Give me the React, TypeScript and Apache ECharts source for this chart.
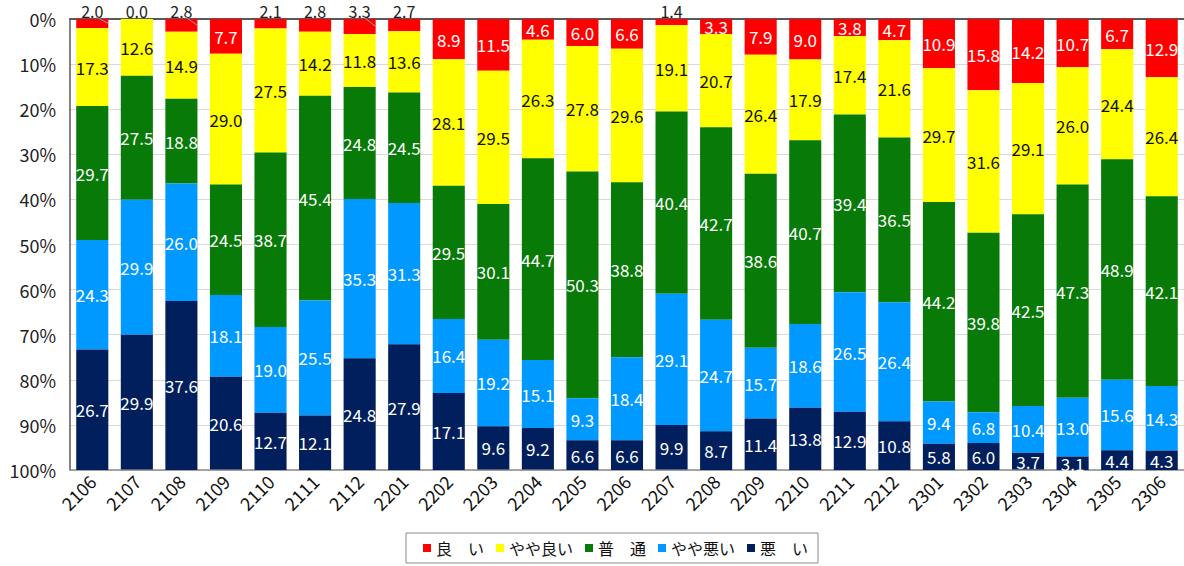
import React, { useEffect, useRef } from "react";
import * as echarts from "echarts";

const categories = ["2106","2107","2108","2109","2110","2111","2112","2201","2202","2203","2204","2205","2206","2207","2208","2209","2210","2211","2212","2301","2302","2303","2304","2305","2306"];
const good = [2.0,0.0,2.8,7.7,2.1,2.8,3.3,2.7,8.9,11.5,4.6,6.0,6.6,1.4,3.3,7.9,9.0,3.8,4.7,10.9,15.8,14.2,10.7,6.7,12.9];
const fairlyGood = [17.3,12.6,14.9,29.0,27.5,14.2,11.8,13.6,28.1,29.5,26.3,27.8,29.6,19.1,20.7,26.4,17.9,17.4,21.6,29.7,31.6,29.1,26.0,24.4,26.4];
const normal = [29.7,27.5,18.8,24.5,38.7,45.4,24.8,24.5,29.5,30.1,44.7,50.3,38.8,40.4,42.7,38.6,40.7,39.4,36.5,44.2,39.8,42.5,47.3,48.9,42.1];
const fairlyBad = [24.3,29.9,26.0,18.1,19.0,25.5,35.3,31.3,16.4,19.2,15.1,9.3,18.4,29.1,24.7,15.7,18.6,26.5,26.4,9.4,6.8,10.4,13.0,15.6,14.3];
const bad = [26.7,29.9,37.6,20.6,12.7,12.1,24.8,27.9,17.1,9.6,9.2,6.6,6.6,9.9,8.7,11.4,13.8,12.9,10.8,5.8,6.0,3.7,3.1,4.4,4.3];
const seriesNames = ["良　い", "やや良い", "普　通", "やや悪い", "悪　い"];
const yTicks = [0, 10, 20, 30, 40, 50, 60, 70, 80, 90, 100];

// indices of the top segment whose labels sit above the plot
const outsideIdx = [0, 1, 2, 4, 5, 6, 7, 13];
const leaderIdx = [0, 2, 6];

const colors = ["#FF0000", "#FFFF00", "#077A07", "#0099FF", "#001F5C"];
const FONT = "'Noto Sans CJK JP', 'Noto Sans', sans-serif";
const BAR_RATIO = 0.72;
const OUT_LABEL_OFFSET = 8;

export default function App() {
  const ref = useRef<HTMLDivElement>(null);
  useEffect(() => {
    if (!ref.current) return;
    const chart = echarts.init(ref.current, null, { renderer: "svg" });
    const values = [good, fairlyGood, normal, fairlyBad, bad];
    const series = values.map((arr, si) => {
      const s: any = {
        name: seriesNames[si],
        type: "bar",
        stack: "total",
        barWidth: BAR_RATIO * 100 + "%",
        xAxisIndex: 0,
        itemStyle: { color: colors[si] },
        label: {
          show: true,
          position: "inside",
          color: si === 1 ? "#111" : "#fff",
          fontSize: 17,
          fontFamily: FONT,
          formatter: (p: any) => Number(p.value).toFixed(1),
        },
        data: arr.map((v, i) =>
          si === 0 && outsideIdx.includes(i)
            ? { value: v, label: { color: "#222", lineHeight: 14, fontSize: 16 } }
            : v
        ),
      };
      if (si === 0) {
        s.labelLayout = (params: any) => {
          if (!outsideIdx.includes(params.dataIndex)) return {};
          const r = params.rect;
          const top = Math.min(r.y, r.y + r.height);
          const cx = r.x + r.width / 2;
          return { x: cx, y: top - OUT_LABEL_OFFSET, align: "center", verticalAlign: "middle" };
        };
      }
      return s;
    });

    chart.setOption({
      animation: false,
      textStyle: { fontFamily: FONT },
      grid: { left: 70, top: 19, width: 1117, height: 451, containLabel: false },
      legend: {
        left: 406,
        top: 533,
        itemWidth: 8,
        itemHeight: 8,
        itemGap: 12,
        icon: "rect",
        padding: [7, 10, 7, 17],
        borderColor: "#8C8C8C",
        borderWidth: 1,
        textStyle: { fontSize: 16, color: "#111", fontFamily: FONT },
        data: seriesNames,
      },
      xAxis: [
        {
          type: "category",
          data: categories,
          position: "bottom",
          axisLine: { onZero: false, lineStyle: { color: "#8C8C8C", width: 1.5 } },
          axisTick: { show: false },
          axisLabel: { rotate: 45, fontSize: 18, color: "#111", margin: 8, interval: 0 },
        },
        {
          type: "category",
          data: categories,
          position: "top",
          axisLine: { onZero: false, lineStyle: { color: "#595959", width: 2 } },
          axisTick: { show: false },
          axisLabel: { show: false },
        },
      ],
      yAxis: {
        type: "value",
        inverse: true,
        min: yTicks[0],
        max: yTicks[yTicks.length - 1],
        interval: 10,
        axisLine: { show: true, lineStyle: { color: "#595959", width: 1.5 } },
        axisTick: { show: false },
        axisLabel: { fontSize: 18, color: "#222", margin: 14, formatter: (v: number) => v + "%" },
        splitLine: { lineStyle: { color: "#D9D9D9", width: 1 } },
      },
      series,
    });

    // leader lines from the outside labels to their bars, positioned via the axes' scales
    const x0 = chart.convertToPixel({ xAxisIndex: 0 }, categories[0]) as number;
    const x1 = chart.convertToPixel({ xAxisIndex: 0 }, categories[1]) as number;
    const halfBar = ((x1 - x0) * BAR_RATIO) / 2;
    const yTop = chart.convertToPixel({ yAxisIndex: 0 }, 0) as number;
    const lines = leaderIdx.map((i) => {
      const cx = chart.convertToPixel({ xAxisIndex: 0 }, categories[i]) as number;
      const yMid = chart.convertToPixel({ yAxisIndex: 0 }, good[i] / 2) as number;
      return {
        type: "line",
        silent: true,
        z: 100,
        shape: { x1: cx + 4, y1: yTop - OUT_LABEL_OFFSET + 6, x2: cx + halfBar, y2: yMid },
        style: { stroke: "#A0A0A0", lineWidth: 1 },
      };
    });
    chart.setOption({ graphic: lines });

    return () => chart.dispose();
  }, []);
  return (
    <div
      ref={ref}
      style={{ position: "fixed", left: 0, top: 0, width: 1184, height: 566, background: "#fff" }}
    />
  );
}
